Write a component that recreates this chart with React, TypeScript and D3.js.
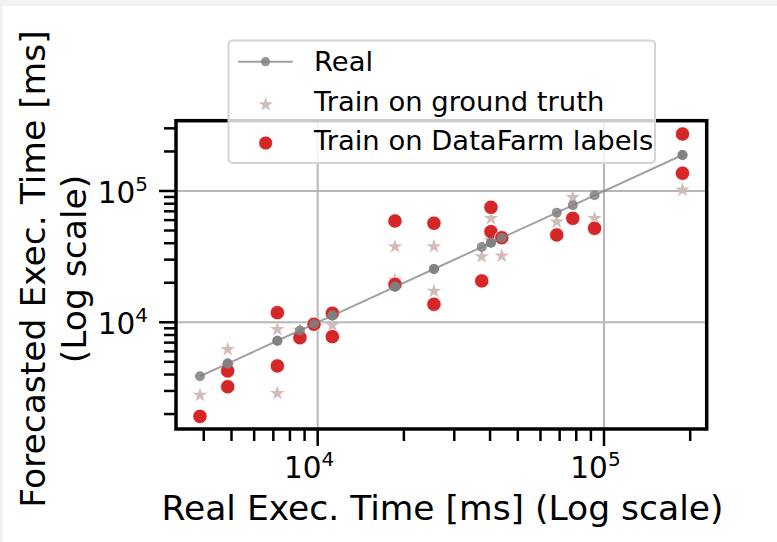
import React, { useRef, useEffect } from 'react';
import * as d3 from 'd3';

// real execution time of each query [ms]
const realTime = [3880, 4850, 4850, 7230, 7230, 8670, 9710, 11250, 11250, 18620, 18620, 25470, 25470, 37410, 40290, 40290, 43940, 68390, 77800, 92700, 188000, 188000];
// forecast of the model trained on ground truth
const groundTruthPred = [2790, 6230, 4700, 8850, 2880, 8700, 9600, 9500, 11500, 37700, 21000, 37700, 17300, 31600, 61900, 42000, 32000, 58300, 89500, 61900, 101800, 136000];
// forecast of the model trained on DataFarm labels
const dataFarmPred = [1920, 4260, 3230, 11840, 4650, 7630, 9660, 11710, 7770, 59100, 19460, 56800, 13710, 20650, 75100, 48970, 44040, 46260, 61900, 51970, 271600, 136500];

const xDomain = [3200, 228400];
const yDomain = [1539, 343000];
const majorTicks = [1e4, 1e5];
const majorExp = ['4', '5'];
const legendLabels = ['Real', 'Train on ground truth', 'Train on DataFarm labels'];

const W = 777, H = 542;
const FONT = '"DejaVu Sans", Verdana, sans-serif';
const RED = '#d62728';
const STAR = '#d2bcb7';
const GREY = '#808080';

function minorTicks(domain: number[]) {
  const out: number[] = [];
  for (let d = 1e3; d <= 1e5; d *= 10) {
    for (let k = 2; k <= 9; k++) {
      const v = k * d;
      if (v > domain[0] && v < domain[1]) out.push(v);
    }
  }
  return out;
}

export default function App() {
  const svgRef = useRef<SVGSVGElement>(null);

  useEffect(() => {
    const svg = d3.select(svgRef.current);
    svg.selectAll('*').remove();

    const x = d3.scaleLog().domain(xDomain).range([176, 706.7]);
    const y = d3.scaleLog().domain(yDomain).range([429, 120.7]);
    const [x0, x1] = x.range();
    const [y0, y1] = y.range();

    // page background (light strip at top/left like the screenshot)
    svg.append('rect').attr('width', W).attr('height', H).attr('fill', '#f3f3f3');
    svg.append('rect').attr('x', 3).attr('y', 6).attr('width', W - 3).attr('height', H - 6).attr('fill', '#fff');

    // grid
    const grid = svg.append('g').attr('stroke', '#b8b8b8').attr('stroke-width', 2);
    majorTicks.forEach(t => {
      grid.append('line').attr('x1', x(t)).attr('x2', x(t)).attr('y1', y1).attr('y2', y0);
      grid.append('line').attr('x1', x0).attr('x2', x1).attr('y1', y(t)).attr('y2', y(t));
    });

    // ticks
    const ticks = svg.append('g').attr('stroke', '#000').attr('stroke-width', 2.5);
    majorTicks.forEach(t => {
      ticks.append('line').attr('x1', x(t)).attr('x2', x(t)).attr('y1', y0).attr('y2', y0 + 17);
      ticks.append('line').attr('x1', x0).attr('x2', x0 - 17).attr('y1', y(t)).attr('y2', y(t));
    });
    minorTicks(xDomain).forEach(t => {
      ticks.append('line').attr('x1', x(t)).attr('x2', x(t)).attr('y1', y0).attr('y2', y0 + 12);
    });
    minorTicks(yDomain).forEach(t => {
      ticks.append('line').attr('x1', x0).attr('x2', x0 - 12).attr('y1', y(t)).attr('y2', y(t));
    });

    // tick labels
    majorTicks.forEach((t, i) => {
      const tx = svg.append('text')
        .attr('x', x(t) - 8.5).attr('y', y0 + 49)
        .attr('text-anchor', 'middle')
        .style('font-family', FONT).attr('fill', '#000');
      tx.append('tspan').style('font-size', '29.5px').text('10');
      tx.append('tspan').style('font-size', '20px').attr('dy', -11.6).text(majorExp[i]);

      const ty = svg.append('text')
        .attr('x', 148).attr('y', y(t) + 11.7)
        .attr('text-anchor', 'end')
        .style('font-family', FONT).attr('fill', '#000');
      ty.append('tspan').style('font-size', '29.5px').text('10');
      ty.append('tspan').style('font-size', '20px').attr('dy', -11.6).text(majorExp[i]);
    });

    // ground truth stars
    const star = d3.symbol().type(d3.symbolStar).size(66);
    svg.append('g')
      .selectAll('path')
      .data(realTime.map((r, i) => [r, groundTruthPred[i]]))
      .join('path')
      .attr('d', star)
      .attr('transform', d => `translate(${x(d[0])},${y(d[1])})`)
      .attr('fill', STAR);

    // DataFarm labels
    svg.append('g')
      .selectAll('circle')
      .data(realTime.map((r, i) => [r, dataFarmPred[i]]))
      .join('circle')
      .attr('cx', d => x(d[0])).attr('cy', d => y(d[1]))
      .attr('r', 7.2)
      .attr('fill', RED)
      .attr('stroke', '#fff').attr('stroke-width', 0.8);

    // real (identity) line
    const realPts = realTime.map(r => [r, r]);
    svg.append('path')
      .datum(realPts)
      .attr('d', d3.line<number[]>().x(d => x(d[0])).y(d => y(d[1])))
      .attr('fill', 'none')
      .attr('stroke', GREY).attr('stroke-opacity', 0.75).attr('stroke-width', 2);
    svg.append('g')
      .selectAll('circle')
      .data(realPts)
      .join('circle')
      .attr('cx', d => x(d[0])).attr('cy', d => y(d[1]))
      .attr('r', 5)
      .attr('fill', GREY).attr('fill-opacity', 0.85);

    // frame
    svg.append('rect')
      .attr('x', x0).attr('y', y1)
      .attr('width', x1 - x0).attr('height', y0 - y1)
      .attr('fill', 'none').attr('stroke', '#000').attr('stroke-width', 3.5);

    // legend
    const lg = svg.append('g');
    lg.append('rect')
      .attr('x', 228.5).attr('y', 40.5).attr('width', 426.5).attr('height', 122.5)
      .attr('rx', 4)
      .attr('fill', '#fff').attr('fill-opacity', 0.8)
      .attr('stroke', '#d4d4d4').attr('stroke-width', 2);
    const rowY = [61.7, 101.5, 141];
    lg.append('line')
      .attr('x1', 238.3).attr('x2', 292.7).attr('y1', rowY[0]).attr('y2', rowY[0])
      .attr('stroke', GREY).attr('stroke-opacity', 0.75).attr('stroke-width', 2);
    lg.append('circle').attr('cx', 265.5).attr('cy', rowY[0]).attr('r', 4.6)
      .attr('fill', GREY).attr('fill-opacity', 0.85);
    lg.append('path').attr('d', star)
      .attr('transform', `translate(265.7,${rowY[1] + 3})`).attr('fill', STAR);
    lg.append('circle').attr('cx', 265.7).attr('cy', rowY[2] + 2).attr('r', 7)
      .attr('fill', RED).attr('stroke', '#fff').attr('stroke-width', 0.8);
    legendLabels.forEach((lab, i) => {
      lg.append('text')
        .attr('x', 314).attr('y', 71 + i * 39.5)
        .style('font-family', FONT).style('font-size', '27.4px')
        .attr('fill', '#000')
        .text(lab);
    });

    // axis labels
    svg.append('text')
      .attr('x', 442.5).attr('y', 520)
      .attr('text-anchor', 'middle')
      .style('font-family', FONT).style('font-size', '34.5px')
      .attr('fill', '#000')
      .text('Real Exec. Time [ms] (Log scale)');
    const yl = svg.append('text')
      .attr('transform', 'translate(0,269) rotate(-90)')
      .attr('text-anchor', 'middle')
      .style('font-family', FONT).style('font-size', '34.5px')
      .attr('fill', '#000');
    yl.append('tspan').attr('x', 0).attr('y', 45).text('Forecasted Exec. Time [ms]');
    yl.append('tspan').attr('x', 0).attr('y', 86).text('(Log scale)');
  }, []);

  return (
    <svg
      ref={svgRef}
      width={W}
      height={H}
      style={{ position: 'absolute', left: 0, top: 0, display: 'block' }}
    />
  );
}
